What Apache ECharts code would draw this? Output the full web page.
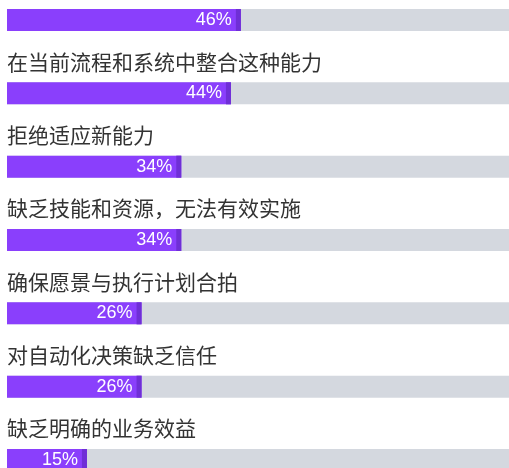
<!DOCTYPE html>
<html>
<head>
<meta charset="utf-8">
<script src="https://cdn.jsdelivr.net/npm/echarts@6/dist/echarts.min.js"></script>
<style>
  html, body { margin: 0; padding: 0; background: #fff; }
  #main { width: 509px; height: 468px; }
</style>
</head>
<body>
<div id="main"></div>
<script>
// categories, top to bottom (the first label is scrolled out of view in the reference)
var categories = [
  '',
  '在当前流程和系统中整合这种能力',
  '拒绝适应新能力',
  '缺乏技能和资源，无法有效实施',
  '确保愿景与执行计划合拍',
  '对自动化决策缺乏信任',
  '缺乏明确的业务效益'
];
var values = [46, 44, 34, 34, 26, 26, 15];

var myChart = echarts.init(document.getElementById('main'));

var BAR_H = 22;

function renderItem(params, api) {
  var idx = api.value(0);
  var v = api.value(1);
  var y = api.coord([0, idx])[1];
  var x0 = api.coord([-1.1, idx])[0];
  var x1 = api.coord([v, idx])[0];
  var xEnd = api.coord([100, idx])[0];
  var top = y - BAR_H / 2;
  return {
    type: 'group',
    children: [
      // grey track
      { type: 'rect', shape: { x: x0, y: top, width: xEnd - x0, height: BAR_H }, style: { fill: '#d4d8df' } },
      // purple fill
      { type: 'rect', shape: { x: x0, y: top, width: x1 - x0, height: BAR_H }, style: { fill: '#8a3ffc' } },
      // darker end cap
      { type: 'rect', shape: { x: x1 - 5, y: top, width: 5, height: BAR_H }, style: { fill: '#6f2fd6' } },
      // percent label
      {
        type: 'text',
        style: {
          x: x1 - 9, y: y,
          text: v + '%',
          fill: '#ffffff',
          font: '18px "Liberation Sans", Arial, sans-serif',
          align: 'right', verticalAlign: 'middle'
        }
      },
      // category label above bar
      {
        type: 'text',
        style: {
          x: x0, y: y - 31.5,
          text: categories[idx],
          fill: '#333333',
          font: '21px "Noto Sans CJK SC", sans-serif',
          align: 'left', verticalAlign: 'middle'
        }
      }
    ]
  };
}

var option = {
  animation: false,
  grid: { left: 7, right: 0, top: 0, bottom: 0 },
  xAxis: { type: 'value', min: -1.1, max: 100, show: false },
  // row index as a value axis so the list can start partly scrolled off
  yAxis: { type: 'value', inverse: true, min: -0.2727, max: 6.109, show: false },
  series: [
    {
      type: 'custom',
      renderItem: renderItem,
      encode: { x: 1, y: 0 },
      data: values.map(function (v, i) { return [i, v]; }),
      clip: false
    }
  ]
};

myChart.setOption(option);
window.addEventListener('resize', myChart.resize);
</script>
</body>
</html>
